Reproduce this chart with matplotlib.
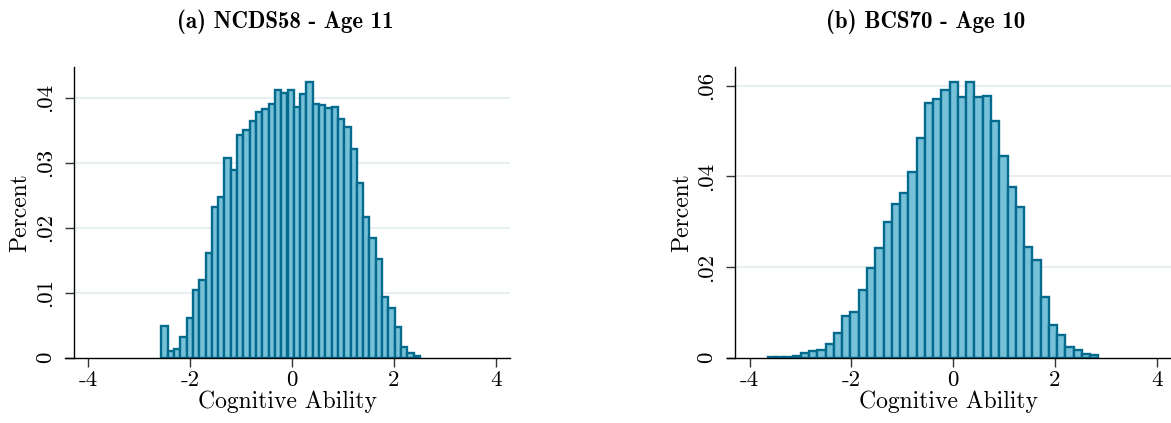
import matplotlib
matplotlib.use("Agg")
import matplotlib.pyplot as plt

plt.rcParams['font.family'] = 'cmr10'
plt.rcParams['axes.formatter.use_mathtext'] = True

BAR_FILL = '#76c0d8'
BAR_EDGE = '#046b8e'
GRID = '#e6eff1'

# NCDS58, age 11: histogram of the standardised test score
ncds_start = -2.557
ncds_width = 0.1236
ncds_pct = [.00487, .00108, .00138, .00323, .00605, .01041, .01195, .01605,
            .02323, .02467, .03077, .02897, .03421, .03503, .03651, .03785,
            .03831, .03913, .04123, .04077, .04123, .03856, .04067, .04251,
            .03913, .03897, .03846, .03856, .03672, .03554, .03215, .02692,
            .02164, .01836, .01518, .00938, .00759, .00477, .00159, .00072,
            .00026]

# BCS70, age 10
bcs_start = -3.642
bcs_width = 0.1624
bcs_pct = [.00012, .00012, .00010, .00037, .00095, .00154, .00176, .00293,
           .00550, .00924, .01012, .01489, .01980, .02420, .02985, .03381,
           .03638, .04100, .04848, .05610, .05706, .05897, .06080, .05757,
           .06080, .05757, .05765, .05215, .04445, .03763, .03315, .02450,
           .02164, .01350, .00726, .00506, .00227, .00176, .00073, .00051]

x_ticks = [-4, -2, 0, 2, 4]
x_ticklabels = ['-4', '-2', '0', '2', '4']
ncds_yticks = [0, .01, .02, .03, .04]
ncds_yticklabels = ['0', '.01', '.02', '.03', '.04']
bcs_yticks = [0, .02, .04, .06]
bcs_yticklabels = ['0', '.02', '.04', '.06']

W, H = 1171, 423
fig = plt.figure(figsize=(W / 100, H / 100), dpi=100)


def panel(rect, start, width, pct, yticks, yticklabels, ytop):
    ax = fig.add_axes(rect)
    lefts = [start + i * width for i in range(len(pct))]
    ax.bar(lefts, pct, width=width, align='edge', color=BAR_FILL,
           edgecolor=BAR_EDGE, linewidth=1.7, zorder=3)
    ax.set_xlim(-4.45, 4.28)
    ax.set_ylim(0, ytop)
    for y in yticks[1:]:
        ax.axhline(y, xmin=0.019, color=GRID, lw=1.4, zorder=1)
    for s in ['top', 'right']:
        ax.spines[s].set_visible(False)
    ax.spines['left'].set_position(('data', -4.28))
    for s in ['left', 'bottom']:
        ax.spines[s].set_linewidth(1.0)
        ax.spines[s].set_color('black')
        ax.spines[s].set_zorder(4)
    ax.set_xticks(x_ticks)
    ax.set_xticklabels(x_ticklabels, fontsize=16.5)
    ax.set_yticks(yticks)
    ax.set_yticklabels(yticklabels, fontsize=16.5, rotation=90, va='center')
    ax.tick_params(axis='both', direction='out', length=6.5, width=1.0,
                   color='#333333')
    ax.tick_params(axis='x', pad=3)
    ax.tick_params(axis='y', pad=7)
    ax.set_xlabel('Cognitive Ability', fontsize=17, labelpad=0)
    ax.set_ylabel('Percent', fontsize=17, labelpad=3)
    return ax


top, bottom = 66.7, 357.7
ax1 = panel([65 / W, (H - bottom) / H, 445 / W, (bottom - top) / H],
            ncds_start, ncds_width, ncds_pct,
            ncds_yticks, ncds_yticklabels, 0.0448)
ax2 = panel([726.7 / W, (H - bottom) / H, 444.3 / W, (bottom - top) / H],
            bcs_start, bcs_width, bcs_pct,
            bcs_yticks, bcs_yticklabels, 0.0642)

fig.text(285 / W, 1 - 22 / H, '(a) NCDS58 - Age 11', family='cmb10',
         fontsize=16.5, ha='center', va='center')
fig.text(926 / W, 1 - 22 / H, '(b) BCS70 - Age 10', family='cmb10',
         fontsize=16.5, ha='center', va='center')

fig.savefig('out.png', dpi=100)
